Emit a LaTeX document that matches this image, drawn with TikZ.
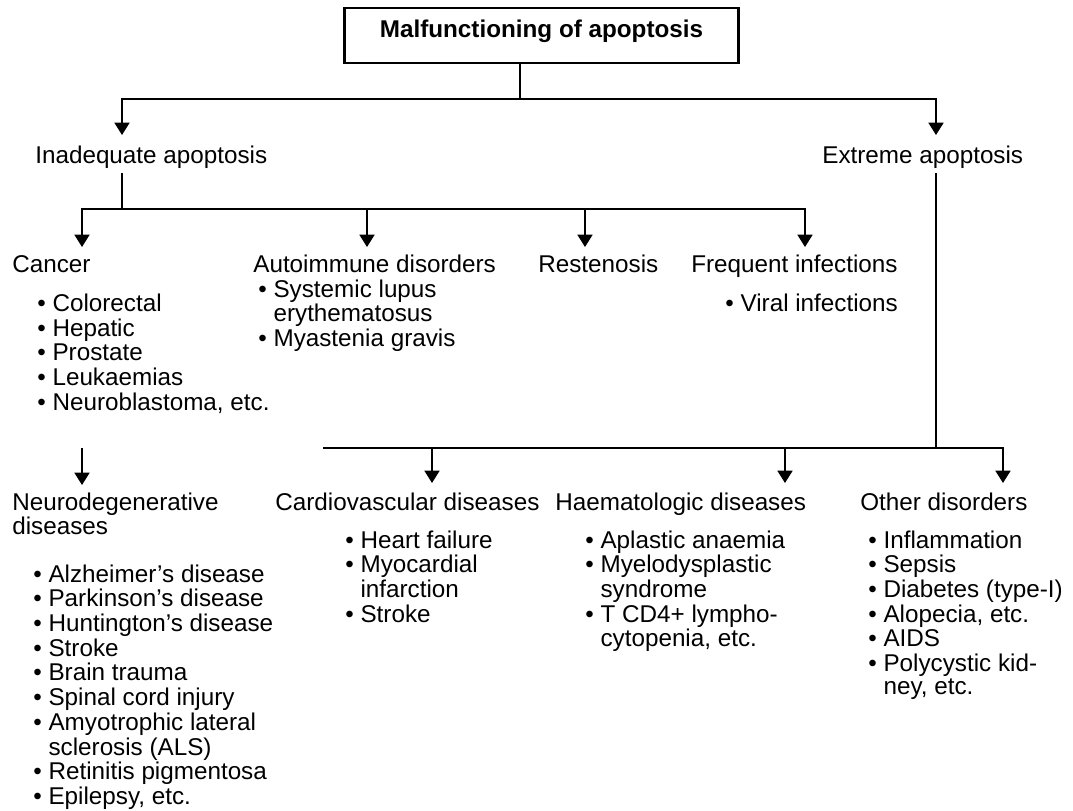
\documentclass[tikz,border=0pt]{standalone}
\usepackage{fontspec}
\setmainfont{Liberation Sans}
\usetikzlibrary{arrows.meta}
\tikzset{every node/.style={inner sep=0pt, font=\fontsize{13.8}{13.6}\selectfont}}
\tikzset{head/.style={anchor=base west}}
\tikzset{link/.style={line width=1.1pt}}
\tikzset{arr/.style={line width=1.1pt, -{Triangle[width=8.5pt,length=7pt]}}}
\tikzset{titlebox/.style={draw, line width=1.5pt, anchor=base,
    minimum width=224pt, text height=17pt, text depth=14.2pt,
    font=\bfseries\fontsize{13.8}{13.6}\selectfont}}
\newcommand{\bul}{\textbullet\ }
\newcommand{\cnt}{\hphantom{\textbullet\ }}
\newcommand{\itemlist}[1]{\begin{tabular}[t]{@{}l@{}}#1\end{tabular}}

\begin{document}
\begin{tikzpicture}[x=0.02cm, y=-0.02cm]
    \useasboundingbox (0,0) rectangle (1073,811);
    \node[titlebox] (title) at (541.5,38) {Malfunctioning of apoptosis};
    \node[head] (inad) at (35,164) {Inadequate apoptosis};
    \node[head] (extr) at (822,164) {Extreme apoptosis};

    % first level
    \node[head] (canc) at (12,273) {Cancer};
    \node[head] (auto) at (253,273) {Autoimmune disorders};
    \node[head] (rest) at (538,273) {Restenosis};
    \node[head] (freq) at (691,273) {Frequent infections};
    \node[head] (canclist) at (37,312) {\itemlist{\bul Colorectal\\ \bul Hepatic\\ \bul Prostate\\ \bul Leukaemias\\ \bul Neuroblastoma, etc.}};
    \node[head] (autolist) at (258,297) {\itemlist{\bul Systemic lupus\\ \cnt erythematosus\\ \bul Myastenia gravis}};
    \node[head] (freqlist) at (725,312) {\bul Viral infections};

    % second level
    \node[head] (neur) at (12,510) {\itemlist{Neurodegenerative\\ diseases}};
    \node[head] (card) at (275,510) {Cardiovascular diseases};
    \node[head] (haem) at (555,510) {Haematologic diseases};
    \node[head] (othr) at (860,510) {Other disorders};
    \node[head] (neurlist) at (33,582) {\itemlist{\bul Alzheimer's disease\\ \bul Parkinson's disease\\ \bul Huntington's disease\\ \bul Stroke\\ \bul Brain trauma\\ \bul Spinal cord injury\\ \bul Amyotrophic lateral\\ \cnt sclerosis (ALS)\\ \bul Retinitis pigmentosa\\ \bul Epilepsy, etc.}};
    \node[head] (cardlist) at (345,548) {\itemlist{\bul Heart failure\\ \bul Myocardial\\ \cnt infarction\\ \bul Stroke}};
    \node[head] (haemlist) at (585,548) {\itemlist{\bul Aplastic anaemia\\ \bul Myelodysplastic\\ \cnt syndrome\\ \bul T CD4+ lympho-\\ \cnt cytopenia, etc.}};
    \node[head] (othrlist) at (868,548) {\itemlist{\bul Inflammation\\ \bul Sepsis\\ \bul Diabetes (type-I)\\ \bul Alopecia, etc.\\ \bul AIDS\\ \bul Polycystic kid-\\ \cnt ney, etc.}};

    \coordinate (topjoin) at (520,99);
    \coordinate (inadin) at (122,135);
    \coordinate (extrin) at (936,135);
    \draw[link] (title.south -| topjoin) -- (topjoin);
    \draw[arr] (topjoin) -| (inadin);
    \draw[arr] (topjoin) -| (extrin);

    \coordinate (inadjoin) at (122,209);
    \coordinate (cancin) at (82,247);
    \coordinate (autoin) at (367,247);
    \coordinate (restin) at (585,247);
    \coordinate (freqin) at (805,247);
    \draw[link] ([yshift=-2.3pt]inad.south -| inadjoin) -- (inadjoin);
    \draw[arr] (inadjoin) -| (cancin);
    \draw[arr] (inadjoin) -| (freqin);
    \draw[arr] (autoin |- inadjoin) -- (autoin);
    \draw[arr] (restin |- inadjoin) -- (restin);

    \coordinate (extrjoin) at (936,448);
    \coordinate (lowleft) at (323,448);
    \coordinate (cardin) at (432,483);
    \coordinate (haemin) at (785,483);
    \coordinate (othrin) at (1003,483);
    \coordinate (neurin) at (82,485);
    \draw[link] ([yshift=-2.3pt]extr.south -| extrjoin) -- (extrjoin);
    \draw[link] (lowleft) -- (extrjoin);
    \draw[arr] (extrjoin) -| (othrin);
    \draw[arr] (cardin |- extrjoin) -- (cardin);
    \draw[arr] (haemin |- extrjoin) -- (haemin);
    \draw[arr] (neurin |- extrjoin) -- (neurin);
\end{tikzpicture}
\end{document}
